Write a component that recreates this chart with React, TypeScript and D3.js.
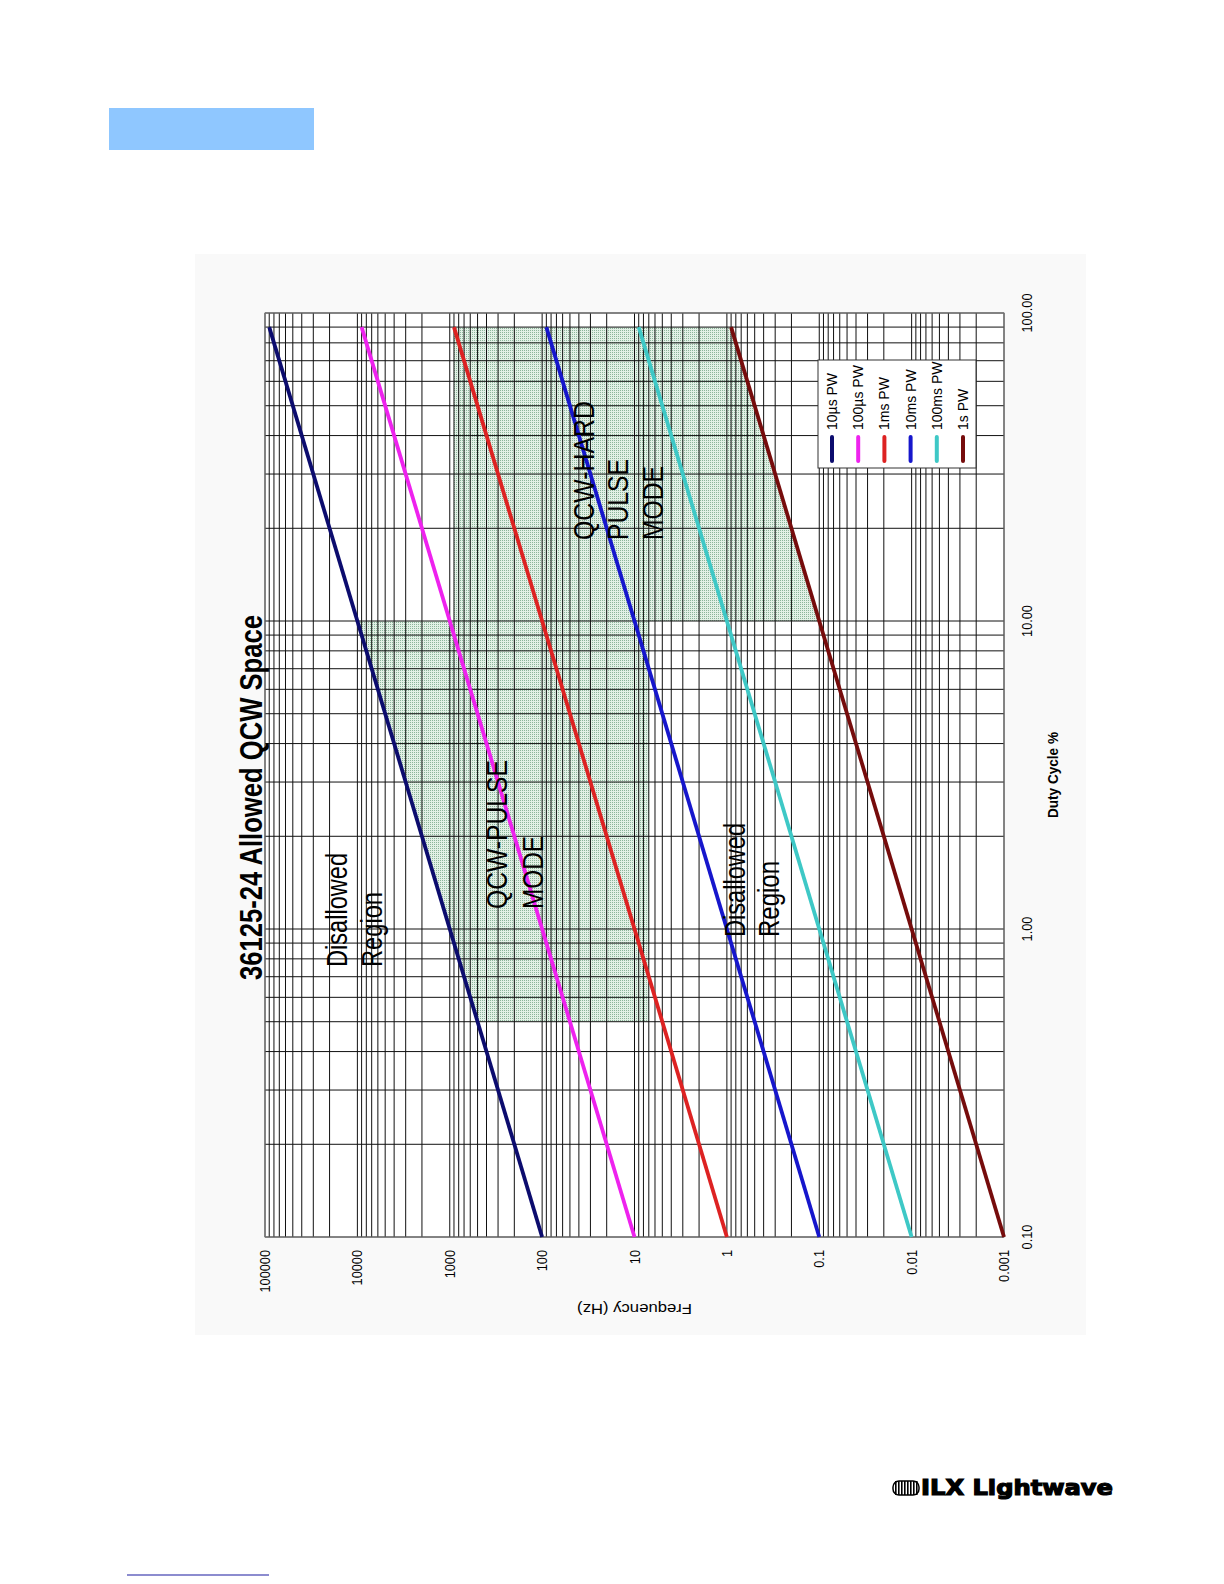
import React from "react";
import * as d3 from "d3";

// ---- data ----
const PULSE_WIDTHS = ["10µs PW", "100µs PW", "1ms PW", "10ms PW", "100ms PW", "1s PW"];
const SERIES_COLORS = ["#0c0c6e", "#ee22ee", "#dd2222", "#1616cc", "#3ec8c6", "#760c0c"];
const DUTY_ENDS = [0.1, 90];
const FREQ_AT_LOW_DUTY = [100, 10, 1, 0.1, 0.01, 0.001];
const FREQ_AT_HIGH_DUTY = [90000, 9000, 900, 90, 9, 0.9];

const FREQ_TICKS = [100000, 10000, 1000, 100, 10, 1, 0.1, 0.01, 0.001];
const DUTY_TICKS = [0.1, 1, 10, 100];

// allowed regions, [frequency Hz, duty %]
const QCW_PULSE_REGION: [number, number][] = [[10000, 10], [7, 10], [7, 0.5], [500, 0.5]];
const QCW_HARD_REGION: [number, number][] = [[900, 90], [0.9, 90], [0.1, 10], [900, 10]];

const W = 1224, H = 1584;
const PL = 265, PR = 1004, PT = 313, PB = 1237;

function RotText({ x, y, children, size = 30, len, anchor = "start", weight = "normal", rot = -90, fill = "#000" }: any) {
  return (
    <text
      transform={`translate(${x},${y}) rotate(${rot})`}
      fontFamily="'Liberation Sans', Arial, sans-serif"
      fontSize={size}
      fontWeight={weight}
      textAnchor={anchor}
      fill={fill}
      textLength={len}
      lengthAdjust={len ? "spacingAndGlyphs" : undefined}
    >
      {children}
    </text>
  );
}

export default function App() {
  const x = d3.scaleLog().domain([1e5, 1e-3]).range([PL, PR]);
  const y = d3.scaleLog().domain([0.1, 100]).range([PB, PT]);
  const xGrid = x.ticks();
  const yGrid = y.ticks();
  const line = d3.line<[number, number]>().x((p) => x(p[0])).y((p) => y(p[1]));
  const poly = (pts: [number, number][]) => line(pts) + "Z";

  const legendX0 = 832, legendStep = 26.2;

  return (
    <svg width={W} height={H} style={{ position: "absolute", left: 0, top: 0, background: "#fff" }}>
      <defs>
        <pattern id="dots" width="2" height="2" patternUnits="userSpaceOnUse">
          <rect width="2" height="2" fill="#e2f0e6" />
          <rect width="1" height="1" fill="#8cb59a" />
        </pattern>
      </defs>
      {/* header bar */}
      <rect x={109} y={108} width={205} height={42} fill="#8fc7ff" />
      {/* chart panel */}
      <rect x={195} y={254} width={891} height={1081} fill="#f9f9f9" />
      <rect x={PL} y={PT} width={PR - PL} height={PB - PT} fill="#fff" />
      {/* shaded allowed regions */}
      <path d={poly(QCW_PULSE_REGION)} fill="url(#dots)" />
      <path d={poly(QCW_HARD_REGION)} fill="url(#dots)" />
      {/* grid */}
      {xGrid.map((v, i) => (
        <line key={"gx" + i} x1={x(v)} x2={x(v)} y1={PT} y2={PB} stroke="#111" strokeWidth={1} />
      ))}
      {yGrid.map((v, i) => (
        <line key={"gy" + i} x1={PL} x2={PR} y1={y(v)} y2={y(v)} stroke="#111" strokeWidth={1} />
      ))}
      <rect x={PL} y={PT} width={PR - PL} height={PB - PT} fill="none" stroke="#808080" strokeWidth={1} />
      {/* curves */}
      {PULSE_WIDTHS.map((pw, i) => (
        <path
          key={pw}
          d={line([[FREQ_AT_LOW_DUTY[i], DUTY_ENDS[0]], [FREQ_AT_HIGH_DUTY[i], DUTY_ENDS[1]]]) || ""}
          stroke={SERIES_COLORS[i]}
          strokeWidth={3.8}
          fill="none"
        />
      ))}
      {/* annotations */}
      <RotText x={262} y={980} size={32} weight="bold" len={365}>36125-24 Allowed QCW Space</RotText>
      <RotText x={347} y={967} len={114}>Disallowed</RotText>
      <RotText x={382} y={967} len={75}>Region</RotText>
      <RotText x={507} y={909} len={149}>QCW-PULSE</RotText>
      <RotText x={543} y={909} len={73}>MODE</RotText>
      <RotText x={745} y={937} len={114}>Disallowed</RotText>
      <RotText x={779} y={937} len={76}>Region</RotText>
      <RotText x={594} y={540} len={139}>QCW-HARD</RotText>
      <RotText x={628} y={540} len={81}>PULSE</RotText>
      <RotText x={663} y={540} len={74}>MODE</RotText>
      {/* legend */}
      <rect x={818} y={360} width={158} height={108} fill="#fff" stroke="#333" strokeWidth={1} />
      {PULSE_WIDTHS.map((pw, i) => {
        const cx = legendX0 + i * legendStep;
        return (
          <g key={"lg" + pw}>
            <line x1={cx} x2={cx} y1={437} y2={461} stroke={SERIES_COLORS[i]} strokeWidth={4} strokeLinecap="round" />
            <RotText x={cx + 5} y={430} size={14}>{pw}</RotText>
          </g>
        );
      })}
      {/* frequency tick labels */}
      {FREQ_TICKS.map((v) => (
        <text
          key={"fl" + v}
          transform={`translate(${x(v) + 5},1250) rotate(-90) scale(0.85,1)`}
          fontFamily="'Liberation Sans', Arial, sans-serif"
          fontSize={15}
          textAnchor="end"
        >
          {String(v)}
        </text>
      ))}
      {/* duty tick labels */}
      {DUTY_TICKS.map((v) => (
        <text
          key={"dl" + v}
          transform={`translate(1032,${y(v)}) rotate(-90) scale(0.85,1)`}
          fontFamily="'Liberation Sans', Arial, sans-serif"
          fontSize={15}
          textAnchor="middle"
        >
          {v.toFixed(2)}
        </text>
      ))}
      {/* axis titles */}
      <RotText x={(PL + PR) / 2} y={1304} rot={180} size={15} anchor="middle" len={115}>Frequency (Hz)</RotText>
      <RotText x={1058} y={(PT + PB) / 2} size={15} weight="bold" anchor="middle" len={86}>Duty Cycle %</RotText>
      {/* logo */}
      <g>
        <rect x={893} y={1481} width={26} height={14} rx={6} fill="#fff" stroke="#000" strokeWidth={1.5} />
        {d3.range(8).map((k) => (
          <rect key={"st" + k} x={895 + k * 3} y={1481} width={1.6} height={14} fill="#000" />
        ))}
        <text x={921} y={1495} fontFamily="'DejaVu Sans', sans-serif" fontWeight="bold" fontSize={21} textLength={192} lengthAdjust="spacingAndGlyphs" stroke="#000" strokeWidth={1.2}>
          ILX Lightwave
        </text>
      </g>
      <line x1={127} x2={269} y1={1575} y2={1575} stroke="#1a1aa0" strokeWidth={1.2} />
    </svg>
  );
}
